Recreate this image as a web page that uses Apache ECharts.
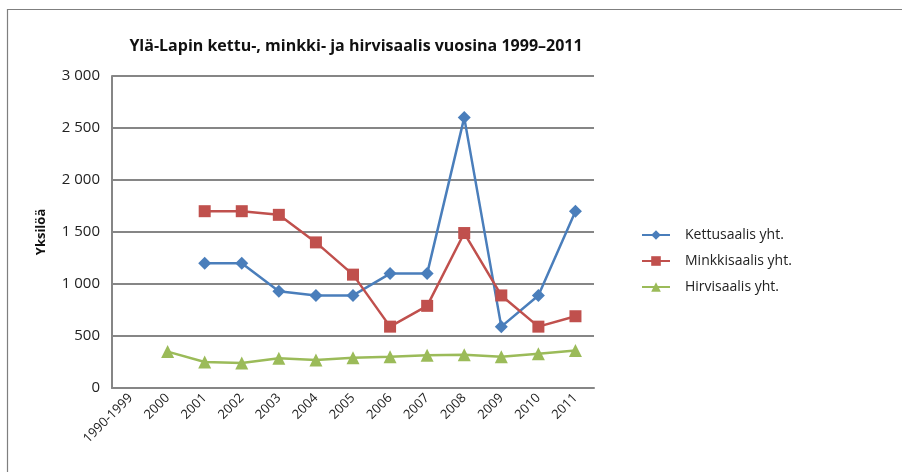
<!DOCTYPE html>
<html>
<head>
<meta charset="utf-8">
<script src="https://cdn.jsdelivr.net/npm/echarts@6/dist/echarts.min.js"></script>
<style>
  html, body { margin: 0; padding: 0; background: #fff; }
  #chart { width: 902px; height: 472px; }
</style>
</head>
<body>
<div id="chart"></div>
<script>
// vuodet
const years = ['1990-1999', '2000', '2001', '2002', '2003', '2004', '2005', '2006', '2007', '2008', '2009', '2010', '2011']

// saaliit (yksilöä), luettu kuvasta
const kettu = [null, null, 1200, 1200, 930, 890, 890, 1100, 1100, 2600, 590, 890, 1700]
const minkki = [null, null, 1700, 1700, 1665, 1400, 1090, 590, 790, 1490, 890, 590, 690]
const hirvi = [null, 350, 250, 240, 285, 270, 290, 300, 315, 320, 300, 330, 360]

const seriesNames = ['Kettusaalis yht.', 'Minkkisaalis yht.', 'Hirvisaalis yht.']
const colors = ['#4A7EBB', '#C0504D', '#9BBB59']

let chart = echarts.init(document.getElementById('chart'))

let option = {
  animation: false,
  title: {
    text: 'Ylä-Lapin kettu-, minkki- ja hirvisaalis vuosina 1999–2011',
    left: 351,
    textAlign: 'center',
    top: 33,
    textStyle: {
      fontFamily: 'Open Sans',
      fontWeight: 'bold',
      fontSize: 16,
      color: '#111'
    }
  },
  legend: {
    orient: 'vertical',
    left: 641,
    top: 228,
    padding: 0,
    itemWidth: 28,
    itemHeight: 12,
    itemGap: 12,
    data: seriesNames,
    textStyle: { fontFamily: 'Open Sans', fontSize: 14, color: '#222', padding: [0, 0, 0, 10] }
  },
  grid: {
    left: 112,
    right: 308,
    top: 76,
    bottom: 84
  },
  xAxis: {
    type: 'category',
    data: years,
    boundaryGap: true,
    axisLine: { lineStyle: { color: '#868686', width: 2 } },
    axisTick: { show: false },
    axisLabel: {
      rotate: 45,
      margin: 8,
      fontFamily: 'Open Sans',
      fontSize: 13,
      color: '#222',
      interval: 0
    }
  },
  yAxis: {
    type: 'value',
    min: 0,
    max: 3000,
    interval: 500,
    name: 'Yksilöä',
    nameLocation: 'middle',
    nameRotate: 90,
    nameGap: 64,
    nameTextStyle: { fontFamily: 'Open Sans', fontWeight: 'bold', fontSize: 13, color: '#111' },
    axisLine: { show: true, lineStyle: { color: '#868686', width: 2 } },
    axisTick: { show: false },
    splitLine: { lineStyle: { color: '#868686', width: 2 } },
    axisLabel: {
      margin: 12,
      fontFamily: 'Open Sans',
      fontSize: 15,
      color: '#222',
      formatter: function (v) {
        return String(v).replace(/\B(?=(\d{3})+(?!\d))/g, ' ')
      }
    }
  },
  graphic: [
    {
      type: 'polyline',
      shape: { points: [[7.5, 472], [7.5, 9.5], [902, 9.5]] },
      style: { stroke: '#7f7f7f', lineWidth: 1.2, fill: null },
      silent: true
    }
  ],
  series: [
    {
      name: seriesNames[0],
      type: 'line',
      data: kettu,
      symbol: 'diamond',
      symbolSize: 13,
      lineStyle: { color: colors[0], width: 2.5 },
      itemStyle: { color: colors[0] }
    },
    {
      name: seriesNames[1],
      type: 'line',
      data: minkki,
      symbol: 'rect',
      symbolSize: 12,
      lineStyle: { color: colors[1], width: 2.5 },
      itemStyle: { color: colors[1] }
    },
    {
      name: seriesNames[2],
      type: 'line',
      data: hirvi,
      symbol: 'triangle',
      symbolSize: 13,
      lineStyle: { color: colors[2], width: 2.5 },
      itemStyle: { color: colors[2] }
    }
  ]
}

chart.setOption(option)
</script>
</body>
</html>
